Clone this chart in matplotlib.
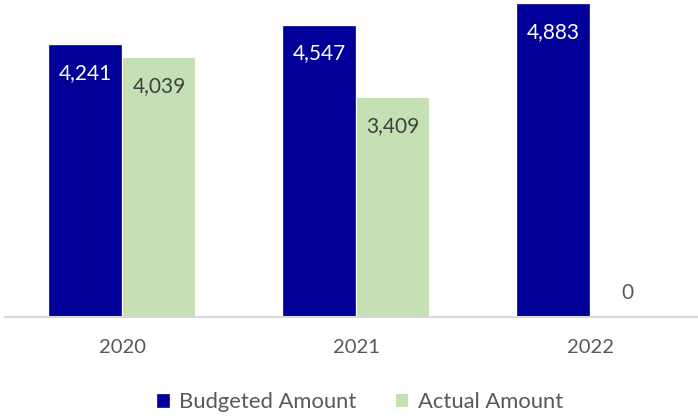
import numpy as np
import matplotlib.pyplot as plt

years = ["2020", "2021", "2022"]
budgeted = [4241, 4547, 4883]
actual = [4039, 3409, 0]

BLUE = "#000099"
GREEN = "#C5E0B4"
GREY = "#595959"

plt.rcParams["font.family"] = ["Lato", "DejaVu Sans"]

fig = plt.figure(figsize=(6.98, 4.17), dpi=100)
# plot area runs a little past the right edge of the figure
ax = fig.add_axes([5 / 698, 100 / 417, 702 / 698, 317 / 417])

x = np.arange(len(years))
w = 0.305
gap = 0.006
b1 = ax.bar(x - w / 2 - gap, budgeted, w, color=BLUE, edgecolor="#1a1aa8", linewidth=0.6)
b2 = ax.bar(x + w / 2 + gap, actual, w, color=GREEN)

ax.set_xlim(-0.5, 2.5)
ax.set_ylim(0, 4945)

def label(bars, values, color):
    for r, v in zip(bars, values):
        cx = r.get_x() + r.get_width() / 2
        if v > 0:
            ax.annotate(f"{v:,}", (cx, v), xytext=(0, -20), textcoords="offset points",
                        ha="center", va="center", color=color, fontsize=15)
        else:
            ax.annotate(f"{v:,}", (cx, v), xytext=(0, 17), textcoords="offset points",
                        ha="center", va="center", color=GREY, fontsize=15)

label(b1, budgeted, "white")
label(b2, actual, "#404040")

ax.set_xticks(x)
ax.set_xticklabels(years, fontsize=14.5, color=GREY)
ax.tick_params(axis="x", length=0, pad=16)
ax.set_yticks([])
for s in ["top", "right", "left"]:
    ax.spines[s].set_visible(False)
ax.spines["bottom"].set_color("#D9D9D9")
ax.spines["bottom"].set_linewidth(1.5)

fig.legend([b1, b2], ["Budgeted Amount", "Actual Amount"], loc="center",
           bbox_to_anchor=(360 / 698, 15 / 417), ncol=2, frameon=False,
           fontsize=15.8, labelcolor=GREY, handlelength=0.55, handleheight=0.55,
           handletextpad=0.45, columnspacing=1.8)

fig.savefig("out.png", dpi=100)
